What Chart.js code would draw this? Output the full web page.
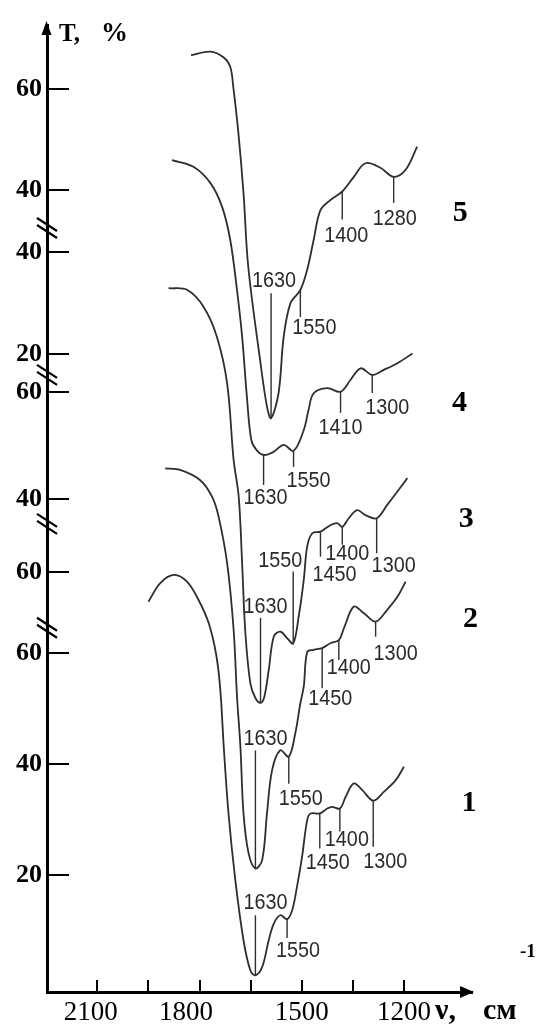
<!DOCTYPE html>
<html>
<head>
<meta charset="utf-8">
<script src="https://cdn.jsdelivr.net/npm/chart.js@4.4.1/dist/chart.umd.min.js"></script>
<style>
  html, body { margin: 0; padding: 0; background: #fff; }
  canvas { display: block; }
</style>
</head>
<body>
<canvas id="ir" width="537" height="1028"></canvas>
<script>
// IR spectra, wavenumber (cm-1) and transmittance (%), curves 1..5
var nu1 = [1950,1916,1876,1837,1803,1773,1751,1739,1729,1715,1695,1671,1651,1636,1616,1597,1582,1563,1543,1528,1514,1499,1484,1474,1447,1425,1411,1388,1371,1347,1322,1290,1259,1224,1200];
var t1  = [69.2,72.5,74.0,72.8,69.5,65.3,59.6,53.3,43.1,31.1,19.1,8.3,2.9,2.0,3.5,8.3,11.3,12.8,12.1,13.7,17.9,23.3,29.9,31.1,31.1,32.0,32.3,32.0,34.1,36.5,35.3,33.4,35.0,37.1,39.5];

var nu2 = [1901,1857,1798,1763,1744,1719,1700,1690,1680,1671,1656,1636,1616,1602,1587,1563,1538,1519,1504,1494,1484,1465,1440,1416,1391,1376,1347,1318,1283,1249,1219,1195];
var t2  = [79.2,78.9,77.0,73.9,70.2,61.6,49.3,36.9,27.6,15.3,7.9,5.1,6.7,15.3,23.3,27.0,25.8,30.1,35.7,38.8,45.2,45.6,45.9,46.8,47.4,49.6,53.6,52.4,50.8,53.0,55.4,58.2];

var nu3 = [1891,1837,1788,1749,1719,1700,1685,1675,1666,1651,1636,1621,1610,1597,1582,1563,1543,1525,1509,1494,1484,1469,1445,1416,1396,1381,1362,1337,1313,1280,1249,1219,1190];
var t3  = [79.4,79.1,75.9,70.3,61.6,47.3,40.4,28.0,15.5,5.6,2.8,1.9,3.0,8.0,14.3,15.2,14.0,13.0,18.0,24.9,31.1,33.6,33.9,35.1,35.5,34.8,36.4,37.9,37.0,36.4,38.9,41.4,43.9];

var nu4 = [1881,1818,1768,1734,1710,1690,1675,1661,1648,1633,1612,1583,1553,1524,1494,1480,1465,1425,1386,1357,1327,1293,1259,1219,1175];
var t4  = [58.0,56.7,53.5,48.9,42.4,32.5,23.4,11.6,3.1,1.2,0.2,0.8,2.2,1.0,5.1,9.0,12.3,13.3,12.6,14.9,17.2,15.9,16.9,18.2,20.1];

var nu5 = [1825,1768,1730,1710,1701,1686,1671,1657,1621,1602,1590,1568,1553,1533,1504,1484,1465,1445,1416,1381,1347,1313,1269,1230,1195,1161];
var t5  = [66.7,67.4,66.3,64.4,60.4,51.3,39.4,24.8,5.7,-2.9,-5.2,-0.2,10.9,17.6,20.2,24.2,30.1,36.0,38.0,39.7,42.6,45.3,44.4,42.6,44.0,48.6];

// band labels per curve and the wavenumber point they are pinned to
var bandText1 = ['1630','1550','1450','1400','1300'];
var bandNu1   = [1636,1543,1447,1388,1290];
var bandText2 = ['1630','1550','1450','1400','1300'];
var bandNu2   = [1636,1538,1440,1391,1283];
var bandText3 = ['1630','1550','1450','1400','1300'];
var bandNu3   = [1621,1525,1445,1381,1280];
var bandText4 = ['1630','1550','1410','1300'];
var bandNu4   = [1612,1524,1386,1293];
var bandText5 = ['1630','1550','1400','1280'];
var bandNu5   = [1590,1504,1381,1230];

var curveNames = ['1','2','3','4','5'];
var xTicks = [2100,1950,1800,1650,1500,1350,1200];
var xTickLabels = ['2100','','1800','','1500','','1200'];
var yTickT = [[60,40,20],[60],[60,40],[40,20],[60,40]];

// layout: stacked broken axis, each curve gets own offset / stretch
var segs = [
  {a: 5.6, s: 5.56, brk: 64.5},
  {a: 96,  s: 5.4,  brk: 68.9},
  {a: 279, s: 5.35, brk: 63.2},
  {a: 536, s: 5.1,  brk: 44.7},
  {a: 600, s: 5.05, brk: null}
];
// [line length, text dx, text dy] for each band label
var bandPos = [
  [[-60,10,-72],[19,11,32],[35,8,49],[23,7,31],[46,12,61]],
  [[-118,10,-130],[27,12,42],[40,8,51],[20,10,28],[15,20,32]],
  [[-85,5,-96],[-72,-13,-83],[25,14,43],[18,5,27],[35,17,48]],
  [[30,2,43],[16,15,30],[21,0,36],[18,15,33]],
  [[-125,3,-137],[27,14,38],[28,4,44],[26,1,42]]
];
var namePos = [[65,36],[65,38],[59,41],[47,50],[43,67]];
var xLabelPad = [2, 0, 4, 0, 0, 0, 0]; // trailing spaces, the printed labels sit a bit left of their ticks

var NU = [nu1, nu2, nu3, nu4, nu5];
var T = [t1, t2, t3, t4, t5];
var BT = [bandText1, bandText2, bandText3, bandText4, bandText5];
var BN = [bandNu1, bandNu2, bandNu3, bandNu4, bandNu5];

var yTicks = [], yLabels = [];
yTickT.forEach(function (list, k) {
  list.forEach(function (v) { yTicks.push(segs[k].a + v * segs[k].s); yLabels.push(String(v)); });
});

var datasets = NU.map(function (nu, k) {
  return {
    label: curveNames[k],
    data: nu.map(function (v, i) { return {x: v, y: segs[k].a + T[k][i] * segs[k].s}; }),
    borderColor: '#2e2e2e', borderWidth: 1.8, pointRadius: 0, tension: 0.35, fill: false
  };
});

function seg(ctx, x1, y1, x2, y2) {
  ctx.beginPath(); ctx.moveTo(x1, y1); ctx.lineTo(x2, y2); ctx.stroke();
}

var decor = {
  id: 'decor',
  afterDraw: function (chart) {
    var ctx = chart.ctx, xs = chart.scales.x, ys = chart.scales.y, ca = chart.chartArea;
    ctx.save();
    ctx.strokeStyle = '#000'; ctx.fillStyle = '#000';
    // inward ticks
    ctx.lineWidth = 2;
    ys.ticks.forEach(function (t) {
      var p = Math.round(ys.getPixelForValue(t.value));
      seg(ctx, ca.left, p, ca.left + 22, p);
    });
    xs.ticks.forEach(function (t) {
      var p = Math.round(xs.getPixelForValue(t.value));
      seg(ctx, p, ca.bottom, p, ca.bottom - 12);
    });
    // arrows
    ctx.beginPath();
    ctx.moveTo(ca.left - 0.5, ca.top - 4); ctx.lineTo(ca.left - 5.5, ca.top + 10); ctx.lineTo(ca.left + 4.5, ca.top + 10);
    ctx.closePath(); ctx.fill();
    ctx.beginPath();
    ctx.moveTo(ca.right + 2, ca.bottom); ctx.lineTo(ca.right - 12, ca.bottom - 6); ctx.lineTo(ca.right - 12, ca.bottom + 6);
    ctx.closePath(); ctx.fill();
    // axis breaks
    ctx.lineWidth = 2.2;
    segs.forEach(function (s) {
      if (s.brk === null) return;
      var p = ys.getPixelForValue(s.a + s.brk * s.s);
      seg(ctx, ca.left - 10, p - 10, ca.left + 10, p + 3);
      seg(ctx, ca.left - 10, p - 3, ca.left + 10, p + 10);
    });
    // axis titles
    ctx.textBaseline = 'alphabetic'; ctx.textAlign = 'left';
    ctx.font = 'bold 25px "Liberation Serif"';
    ctx.fillText('T,', 59, 41);
    ctx.font = 'bold 27px "Liberation Serif"';
    ctx.fillText('%', 101, 41);
    ctx.font = 'bold 30px "Liberation Serif"';
    ctx.fillText('\u03bd,', 435, 1019);
    ctx.fillText('\u0441\u043c', 483, 1019);
    ctx.font = 'bold 19px "Liberation Serif"';
    ctx.fillText('-1', 520, 957);
    // band labels
    ctx.textAlign = 'center'; ctx.textBaseline = 'middle';
    NU.forEach(function (nu, k) {
      var meta = chart.getDatasetMeta(k);
      ctx.strokeStyle = '#2e2e2e'; ctx.lineWidth = 1.4;
      BN[k].forEach(function (b, j) {
        var pt = meta.data[nu.indexOf(b)];
        if (!pt) return;
        var o = bandPos[k][j];
        seg(ctx, pt.x, pt.y, pt.x, pt.y + o[0]);
        ctx.save();
        ctx.translate(pt.x + o[1], pt.y + o[2]);
        ctx.scale(0.9, 1);
        ctx.fillStyle = '#2a2a2a';
        ctx.font = '22px "Liberation Sans"';
        ctx.fillText(BT[k][j], 0, 0);
        ctx.restore();
      });
      var last = meta.data[meta.data.length - 1];
      ctx.font = 'bold 30px "Liberation Serif"';
      ctx.fillStyle = '#000';
      ctx.fillText(curveNames[k], last.x + namePos[k][0], last.y + namePos[k][1]);
    });
    ctx.restore();
  }
};

new Chart(document.getElementById('ir'), {
  type: 'line',
  data: { datasets: datasets },
  options: {
    responsive: false, animation: false, devicePixelRatio: 1,
    layout: { padding: { left: 0, top: 25, right: 65, bottom: 0 } },
    plugins: { legend: { display: false }, tooltip: { enabled: false } },
    scales: {
      x: {
        type: 'linear', reverse: true, min: 1000, max: 2248,
        afterBuildTicks: function (s) { s.ticks = xTicks.map(function (v) { return {value: v}; }); },
        afterFit: function (s) { s.height = 36; },
        border: { display: true, color: '#000', width: 3 },
        grid: { display: false, drawTicks: false },
        ticks: {
          autoSkip: false, maxRotation: 0, padding: 5, color: '#000',
          font: { family: 'Liberation Serif', size: 27 },
          callback: function (v, i) {
            return xTickLabels[i] ? xTickLabels[i] + '\u00a0'.repeat(xLabelPad[i]) : '';
          }
        }
      },
      y: {
        type: 'linear', min: 0, max: 967,
        afterBuildTicks: function (s) { s.ticks = yTicks.map(function (v) { return {value: v}; }); },
        afterFit: function (s) { s.width = 47; },
        border: { display: true, color: '#000', width: 3 },
        grid: { display: false, drawTicks: false },
        ticks: {
          autoSkip: false, padding: 5, color: '#000',
          font: { family: 'Liberation Serif', size: 26, weight: 'bold' },
          callback: function (v, i) { return yLabels[i]; }
        }
      }
    }
  },
  plugins: [decor]
});
</script>
</body>
</html>
